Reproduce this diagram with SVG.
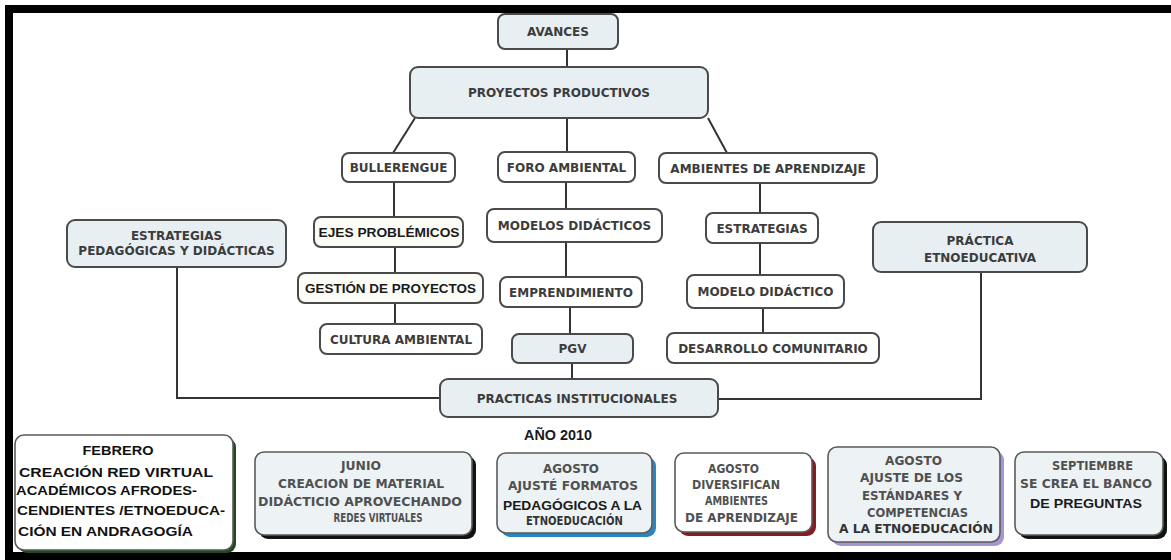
<svg xmlns="http://www.w3.org/2000/svg" width="1171" height="560" viewBox="0 0 1171 560">
<style>
.node{stroke:#4a4a4a;stroke-width:2}
.blue{fill:#e8eff2}
.white{fill:#ffffff}
.cream{fill:#fcfcf7}
.t{font-family:"DejaVu Sans",Verdana,sans-serif;font-weight:bold;font-size:12px;fill:#3c3c3c;text-anchor:middle}
.ta{font-family:"Liberation Sans",Arial,sans-serif;font-weight:bold;font-size:12.5px;fill:#1a1a1a;text-anchor:middle}
.tb{font-family:"DejaVu Sans",Verdana,sans-serif;font-weight:bold;font-size:11.5px;fill:#505050;text-anchor:middle}
.tf{font-family:"Liberation Sans",Arial,sans-serif;font-weight:bold;font-size:13.5px;fill:#111}
.box{stroke:#5a5a5a;stroke-width:1.6}
.conn{stroke:#333;stroke-width:2;fill:none}
</style>
<rect x="0" y="0" width="1171" height="560" fill="#ffffff"/>
<!-- frame -->
<rect x="5" y="5" width="1166" height="8" fill="#000"/>
<rect x="5" y="5" width="8" height="555" fill="#000"/>
<rect x="5" y="552" width="1166" height="8" fill="#000"/>

<g id="connectors">
<path class="conn" d="M567 49V67"/>
<path class="conn" d="M415 118L393 153"/>
<path class="conn" d="M567 118V152"/>
<path class="conn" d="M708 118L727 153"/>
<path class="conn" d="M394 182V217"/>
<path class="conn" d="M395 247V273"/>
<path class="conn" d="M395 303V324"/>
<path class="conn" d="M566 182V209"/>
<path class="conn" d="M566 242V277"/>
<path class="conn" d="M570 307V334"/>
<path class="conn" d="M572 363V379"/>
<path class="conn" d="M760 183V213"/>
<path class="conn" d="M760 243V275"/>
<path class="conn" d="M763 308V333"/>
<path class="conn" d="M177 267V398H440"/>
<path class="conn" d="M981 272V399H718"/>
</g>

<g id="avances"><rect class="node blue" x="498" y="14" width="120" height="35" rx="7"/><text class="t" x="558" y="36">AVANCES</text></g>
<g id="proyectos"><rect class="node blue" x="410" y="67" width="298" height="51" rx="8"/><text class="t" x="559" y="97">PROYECTOS PRODUCTIVOS</text></g>
<g id="bullerengue"><rect class="node white" x="342" y="153" width="113" height="29" rx="7"/><text class="t" x="398.5" y="172">BULLERENGUE</text></g>
<g id="foro"><rect class="node white" x="498" y="152" width="137" height="30" rx="7"/><text class="t" x="566.5" y="172">FORO AMBIENTAL</text></g>
<g id="ambientes"><rect class="node white" x="659" y="153" width="218" height="30" rx="7"/><text class="t" x="768" y="173">AMBIENTES DE APRENDIZAJE</text></g>
<g id="estrategias-ped"><rect class="node blue" x="67" y="220" width="219" height="47" rx="8"/><text class="t" x="176.5" y="240">ESTRATEGIAS</text><text class="t" x="176.5" y="255">PEDAGÓGICAS Y DIDÁCTICAS</text></g>
<g id="ejes"><rect class="node cream" x="314" y="217" width="149" height="30" rx="7"/><text class="ta" x="389" y="237" textLength="141" lengthAdjust="spacingAndGlyphs">EJES PROBLÉMICOS</text></g>
<g id="modelos"><rect class="node white" x="487" y="209" width="175" height="33" rx="7"/><text class="t" x="574.5" y="230">MODELOS DIDÁCTICOS</text></g>
<g id="estrategias"><rect class="node white" x="706" y="213" width="112" height="30" rx="7"/><text class="t" x="762" y="233">ESTRATEGIAS</text></g>
<g id="practica-etno"><rect class="node blue" x="873" y="222" width="214" height="50" rx="8"/><text class="t" x="980" y="245">PRÁCTICA</text><text class="t" x="980" y="262">ETNOEDUCATIVA</text></g>
<g id="gestion"><rect class="node cream" x="298" y="273" width="185" height="30" rx="7"/><text class="ta" x="390.5" y="293" textLength="171" lengthAdjust="spacingAndGlyphs">GESTIÓN DE PROYECTOS</text></g>
<g id="emprendimiento"><rect class="node white" x="500" y="277" width="142" height="30" rx="7"/><text class="t" x="571" y="297">EMPRENDIMIENTO</text></g>
<g id="modelo-didactico"><rect class="node white" x="687" y="275" width="157" height="33" rx="7"/><text class="t" x="765.5" y="296">MODELO DIDÁCTICO</text></g>
<g id="cultura"><rect class="node white" x="320" y="324" width="162" height="30" rx="7"/><text class="t" x="401" y="344">CULTURA AMBIENTAL</text></g>
<g id="pgv"><rect class="node blue" x="512" y="334" width="121" height="29" rx="7"/><text class="t" x="572.5" y="353">PGV</text></g>
<g id="desarrollo"><rect class="node white" x="667" y="333" width="212" height="30" rx="7"/><text class="t" x="773" y="353">DESARROLLO COMUNITARIO</text></g>
<g id="practicas"><rect class="node blue" x="440" y="379" width="278" height="38" rx="8"/><text class="t" x="577" y="403">PRACTICAS INSTITUCIONALES</text></g>

<g id="anio"><text class="ta" x="558" y="440" style="font-size:14px" textLength="68" lengthAdjust="spacingAndGlyphs">AÑO 2010</text></g>

<g id="febrero">
<rect x="18" y="438" width="218" height="115" rx="9" fill="#1f4a22"/>
<rect class="box" x="15" y="435" width="218" height="115" rx="9" fill="#ffffff"/>
<text class="tf" x="118" y="455" text-anchor="middle" textLength="71" lengthAdjust="spacingAndGlyphs">FEBRERO</text>
<text class="tf" x="19" y="477" textLength="194" lengthAdjust="spacingAndGlyphs">CREACIÓN RED VIRTUAL</text>
<text class="tf" x="16" y="495" textLength="181" lengthAdjust="spacingAndGlyphs">ACADÉMICOS AFRODES-</text>
<text class="tf" x="17" y="515" textLength="208" lengthAdjust="spacingAndGlyphs">CENDIENTES /ETNOEDUCA-</text>
<text class="tf" x="18" y="536" textLength="175" lengthAdjust="spacingAndGlyphs">CIÓN EN ANDRAGOGÍA</text>
</g>
<g id="junio">
<rect x="259" y="456" width="217" height="83" rx="9" fill="#111"/>
<rect class="box" x="255" y="452" width="217" height="83" rx="9" fill="#edf2f4"/>
<text class="tb" x="361" y="470" textLength="40" lengthAdjust="spacingAndGlyphs">JUNIO</text>
<text class="tb" x="361" y="488" textLength="166" lengthAdjust="spacingAndGlyphs">CREACION DE MATERIAL</text>
<text class="tb" x="360" y="506" textLength="204" lengthAdjust="spacingAndGlyphs">DIDÁCTICIO APROVECHANDO</text>
<text class="tb" x="378" y="522" textLength="89" lengthAdjust="spacingAndGlyphs">REDES VIRTUALES</text>
</g>
<g id="agosto-formatos">
<rect x="501" y="457" width="155" height="80" rx="9" fill="#2b86c0"/>
<rect class="box" x="497" y="453" width="155" height="80" rx="9" fill="#edf2f4"/>
<text class="tb" x="571" y="473" textLength="56" lengthAdjust="spacingAndGlyphs">AGOSTO</text>
<text class="tb" x="573" y="490" textLength="130" lengthAdjust="spacingAndGlyphs">AJUSTÉ FORMATOS</text>
<text class="ta" x="572.5" y="510" textLength="139" lengthAdjust="spacingAndGlyphs">PEDAGÓGICOS A LA</text>
<text class="tb" x="574.5" y="525" style="fill:#333" textLength="97" lengthAdjust="spacingAndGlyphs">ETNOEDUCACIÓN</text>
</g>
<g id="agosto-ambientes">
<rect x="679" y="457" width="137" height="79" rx="9" fill="#861b22"/>
<rect class="box" x="675" y="453" width="137" height="79" rx="9" fill="#ffffff"/>
<text class="tb" x="733.5" y="473" textLength="51" lengthAdjust="spacingAndGlyphs">AGOSTO</text>
<text class="tb" x="736" y="489" textLength="88" lengthAdjust="spacingAndGlyphs">DIVERSIFICAN</text>
<text class="tb" x="736.5" y="505" textLength="63" lengthAdjust="spacingAndGlyphs">AMBIENTES</text>
<text class="tb" x="741.5" y="522" textLength="113" lengthAdjust="spacingAndGlyphs">DE APRENDIZAJE</text>
</g>
<g id="agosto-estandares">
<rect x="832" y="451" width="172" height="95" rx="9" fill="#a595d6"/>
<rect class="box" x="828" y="447" width="172" height="95" rx="9" fill="#edf2f4"/>
<text class="tb" x="913.5" y="465" textLength="57" lengthAdjust="spacingAndGlyphs">AGOSTO</text>
<text class="tb" x="911.5" y="482" textLength="103" lengthAdjust="spacingAndGlyphs">AJUSTE DE LOS</text>
<text class="tb" x="912" y="500" textLength="100" lengthAdjust="spacingAndGlyphs">ESTÁNDARES Y</text>
<text class="tb" x="917.5" y="517" textLength="101" lengthAdjust="spacingAndGlyphs">COMPETENCIAS</text>
<text class="tb" x="916" y="533" style="fill:#333" textLength="154" lengthAdjust="spacingAndGlyphs">A LA ETNOEDUCACIÓN</text>
</g>
<g id="septiembre">
<rect x="1019" y="456" width="148" height="83" rx="9" fill="#111"/>
<rect class="box" x="1015" y="452" width="148" height="83" rx="9" fill="#edf2f4"/>
<text class="tb" x="1092.5" y="470" textLength="81" lengthAdjust="spacingAndGlyphs">SEPTIEMBRE</text>
<text class="tb" x="1086" y="488" textLength="132" lengthAdjust="spacingAndGlyphs">SE CREA EL BANCO</text>
<text class="ta" x="1086" y="508" style="font-size:13.5px" textLength="112" lengthAdjust="spacingAndGlyphs">DE PREGUNTAS</text>
</g>
</svg>
